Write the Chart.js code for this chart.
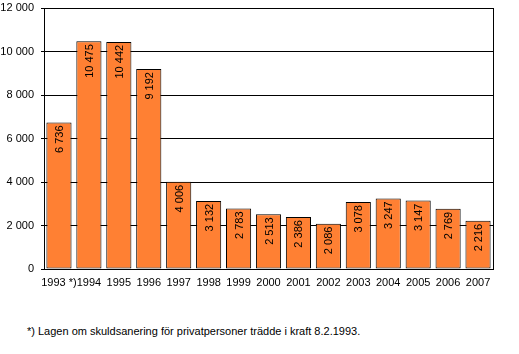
<!DOCTYPE html>
<html>
<head>
<meta charset="utf-8">
<script src="https://cdn.jsdelivr.net/npm/chart.js@4/dist/chart.umd.min.js"></script>
<style>
  body { margin: 0; background: #fff; }
  #caja { position: relative; width: 519px; height: 354px; }
  #nota { position: absolute; left: 27px; top: 325px; font: 11px "Liberation Sans", Arial, sans-serif; color: #000; white-space: nowrap; }
</style>
</head>
<body>
<div id="caja">
  <canvas id="myChart" width="519" height="300"></canvas>
  <div id="nota">*) Lagen om skuldsanering för privatpersoner trädde i kraft 8.2.1993.</div>
</div>
<script>
const anios = ["1993 *)", "1994", "1995", "1996", "1997", "1998", "1999", "2000", "2001", "2002", "2003", "2004", "2005", "2006", "2007"]
const valores = [6736, 10475, 10442, 9192, 4006, 3132, 2783, 2513, 2386, 2086, 3078, 3247, 3147, 2769, 2216]
const ticksY = [0, 2000, 4000, 6000, 8000, 10000, 12000]

const formato = (n) => String(n).replace(/\B(?=(\d{3})+(?!\d))/g, " ")

Chart.defaults.font.family = "'Liberation Sans', Arial, sans-serif"
Chart.defaults.font.size = 11
Chart.defaults.color = "#000"

// etiquetas verticales dentro de cada barra
const etiquetas = {
  id: "etiquetas",
  afterDatasetsDraw(chart) {
    const ctx = chart.ctx
    const meta = chart.getDatasetMeta(0)
    ctx.save()
    ctx.fillStyle = "#000"
    ctx.font = "11px 'Liberation Sans', Arial, sans-serif"
    meta.data.forEach((bar, i) => {
      ctx.save()
      ctx.translate(bar.x + 1, bar.y + 3)
      ctx.rotate(-Math.PI / 2)
      ctx.textAlign = "right"
      ctx.textBaseline = "middle"
      ctx.fillText(formato(valores[i]), 0, 0)
      ctx.restore()
    })
    ctx.restore()
  }
}

// borde derecho del area
const marco = {
  id: "marco",
  afterDraw(chart) {
    const a = chart.chartArea
    const ctx = chart.ctx
    const x = Math.round(a.right) + 0.5
    ctx.save()
    ctx.strokeStyle = "#000"
    ctx.lineWidth = 1
    ctx.beginPath()
    ctx.moveTo(x, Math.round(a.top))
    ctx.lineTo(x, Math.round(a.bottom) + 1)
    ctx.stroke()
    ctx.restore()
  }
}

const ctx = document.getElementById("myChart")
window.myChart = new Chart(ctx, {
  type: "bar",
  data: {
    labels: anios,
    datasets: [{
      data: valores,
      backgroundColor: "#ff8033",
      borderColor: "#000",
      borderWidth: 1,
      borderSkipped: false,
      barPercentage: 0.84,
      categoryPercentage: 1
    }]
  },
  options: {
    responsive: false,
    animation: false,
    layout: { padding: { top: 8, right: 26, bottom: 11, left: 0 } },
    plugins: { legend: { display: false }, tooltip: { enabled: false } },
    scales: {
      x: {
        grid: { display: false, drawTicks: false },
        border: { display: true, color: "#000", width: 1 },
        ticks: { autoSkip: false, maxRotation: 0, minRotation: 0, padding: 7 },
        afterFit: (s) => { s.height = 20 }
      },
      y: {
        min: 0,
        max: 12000,
        afterBuildTicks: (s) => { s.ticks = ticksY.map(v => ({ value: v })) },
        grid: { color: "#000", lineWidth: 1, tickLength: 3 },
        border: { color: "#000", width: 1 },
        ticks: { padding: 7, callback: (v) => formato(v) },
        afterFit: (s) => { s.width = 44; s.paddingTop = 0; s.paddingBottom = 0 }
      }
    }
  },
  plugins: [etiquetas, marco]
})
</script>
</body>
</html>
